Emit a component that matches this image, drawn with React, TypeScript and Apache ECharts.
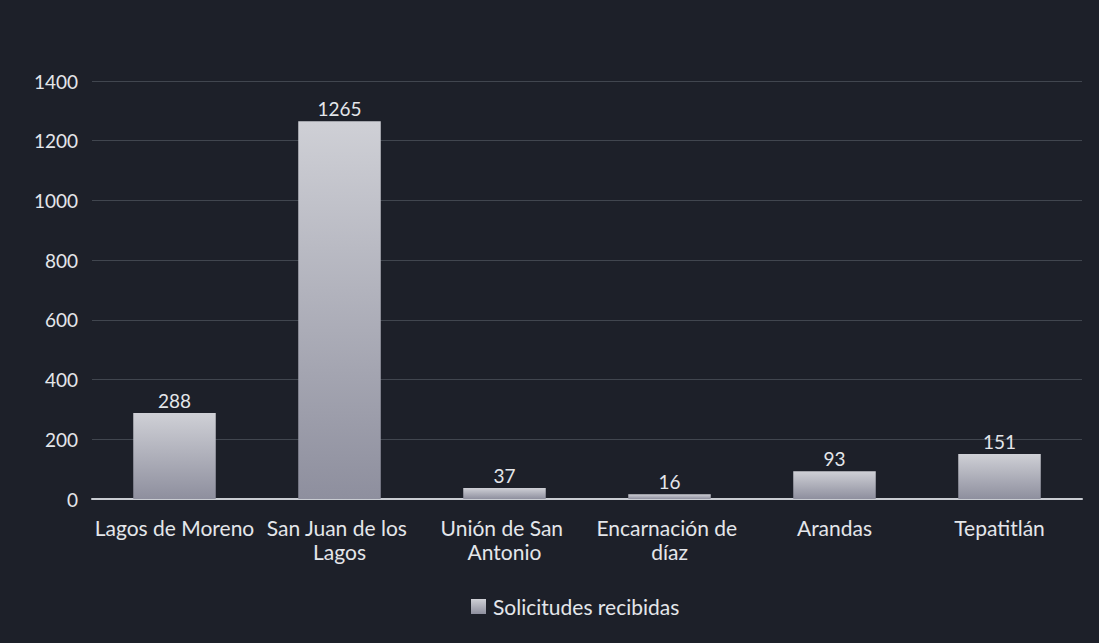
import React, { useEffect, useRef } from "react";
import * as echarts from "echarts";

const categories = [
  "Lagos de Moreno",
  "San Juan de los Lagos",
  "Unión de San Antonio",
  "Encarnación de díaz",
  "Arandas",
  "Tepatitlán",
];
const seriesName = "Solicitudes recibidas";
const values = [288, 1265, 37, 16, 93, 151];
const yTicks = { min: 0, max: 1400, interval: 200 };

const FONT = "Lato";
const TEXT = "#e4e6ea";

export default function App() {
  const ref = useRef<HTMLDivElement>(null);
  useEffect(() => {
    if (!ref.current) return;
    const chart = echarts.init(ref.current, undefined, { renderer: "svg" });
    chart.setOption({
      animation: false,
      backgroundColor: "#1d2029",
      textStyle: { fontFamily: FONT, color: TEXT },
      grid: { left: 92, right: 17, top: 81, bottom: 144 },
      legend: {
        bottom: 21,
        left: 466,
        itemWidth: 15,
        itemHeight: 15,
        textStyle: { color: TEXT, fontSize: 21, fontFamily: FONT, padding: [0, 0, 0, 2] },
        data: [{ name: seriesName, icon: "rect" }],
      },
      xAxis: {
        type: "category",
        data: categories,
        axisLine: { lineStyle: { color: "#c9ccd2", width: 2 } },
        axisTick: { show: false },
        axisLabel: {
          color: TEXT,
          fontSize: 21,
          fontFamily: FONT,
          margin: 16,
          lineHeight: 24,
          interval: 0,
          width: 164,
          overflow: "break",
        },
      },
      yAxis: {
        type: "value",
        min: yTicks.min,
        max: yTicks.max,
        interval: yTicks.interval,
        axisLine: { show: false },
        axisTick: { show: false },
        axisLabel: {
          color: TEXT,
          fontSize: 19,
          fontFamily: FONT,
          margin: 14,
          formatter: (v: number) => String(v),
        },
        splitLine: { lineStyle: { color: "rgba(150,160,170,0.3)", width: 1 } },
      },
      series: [
        {
          name: seriesName,
          type: "bar",
          data: values,
          barWidth: "50%",
          itemStyle: {
            color: new echarts.graphic.LinearGradient(0, 0, 0, 1, [
              { offset: 0, color: "#cfd0d6" },
              { offset: 1, color: "#8e8f9e" },
            ]),
          },
          label: {
            show: true,
            position: "top",
            color: TEXT,
            fontSize: 19,
            fontFamily: FONT,
            distance: 3,
          },
        },
      ],
    });
    return () => chart.dispose();
  }, []);
  return (
    <div
      ref={ref}
      style={{ position: "fixed", left: 0, top: 0, width: 1099, height: 643 }}
    />
  );
}
